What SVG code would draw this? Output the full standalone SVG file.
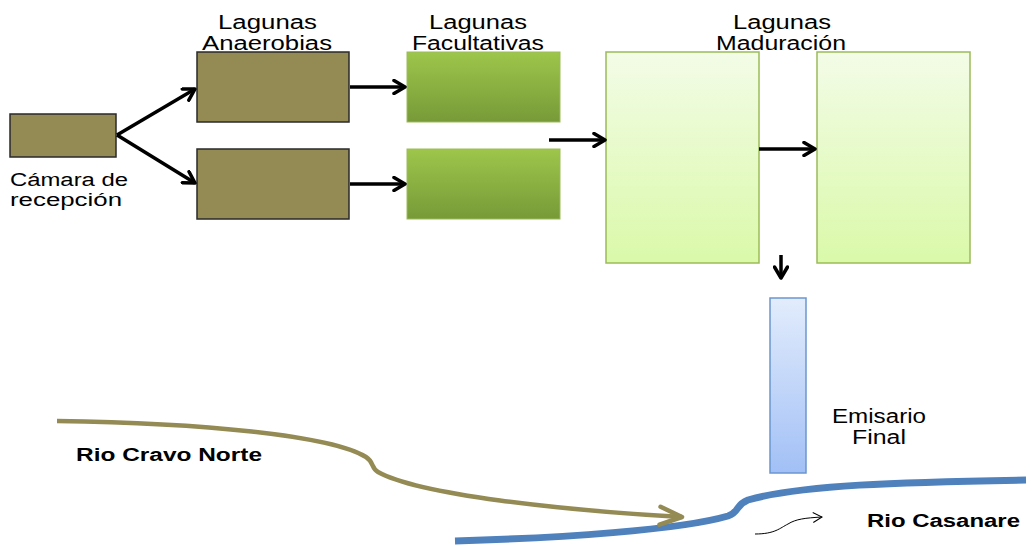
<svg xmlns="http://www.w3.org/2000/svg" width="1032" height="546" viewBox="0 0 1032 546">
<defs>
<linearGradient id="gFac" x1="0" y1="0" x2="0" y2="1"><stop offset="0" stop-color="#9DC64B"/><stop offset="1" stop-color="#779A38"/></linearGradient>
<linearGradient id="gMad" x1="0" y1="0" x2="0" y2="1"><stop offset="0" stop-color="#F3FCE7"/><stop offset="1" stop-color="#DAF9A9"/></linearGradient>
<linearGradient id="gEmi" x1="0" y1="0" x2="0" y2="1"><stop offset="0" stop-color="#E2ECFC"/><stop offset="1" stop-color="#A2C0F6"/></linearGradient>
<marker id="ah" viewBox="0 0 16 16" refX="13" refY="8" markerWidth="16" markerHeight="16" markerUnits="userSpaceOnUse" orient="auto"><polyline points="2,1.5 13,8 2,14.5" fill="none" stroke="#000" stroke-width="3.5" stroke-linecap="round" stroke-linejoin="round"/></marker>
<marker id="ahB" viewBox="0 0 28 24" refX="25" refY="12" markerWidth="28" markerHeight="24" markerUnits="userSpaceOnUse" orient="auto"><polyline points="3,3 25,12 3,21" fill="none" stroke="#948A54" stroke-width="4.5" stroke-linecap="round" stroke-linejoin="round"/></marker>
<marker id="ahT" viewBox="0 0 12 12" refX="10" refY="6" markerWidth="12" markerHeight="12" markerUnits="userSpaceOnUse" orient="auto"><polyline points="1,1 10,6 1,11" fill="none" stroke="#000" stroke-width="1"/></marker>
</defs>
<style>
.lbl{font-family:"Liberation Sans",Arial,sans-serif;font-size:20px;fill:#000}
.sm{font-size:18px}
.bold{font-family:"Liberation Sans",Arial,sans-serif;font-size:18px;font-weight:bold;fill:#000}
.brown{fill:#948A54;stroke:#2a2a2a;stroke-width:1.5}
.fac{fill:url(#gFac);stroke:#9BBB59;stroke-width:1}
.mad{fill:url(#gMad);stroke:#9BBB59;stroke-width:1.5}
.arr{fill:none;stroke:#000;stroke-width:3.5;marker-end:url(#ah)}
</style>
<rect width="1032" height="546" fill="#fff"/>
<g id="camara">
<rect class="brown" x="10" y="114" width="106" height="43"/>
<text class="lbl sm" x="10" y="186" textLength="118" lengthAdjust="spacingAndGlyphs">Cámara de</text>
<text class="lbl sm" x="10" y="206" textLength="112" lengthAdjust="spacingAndGlyphs">recepción</text>
</g>
<g id="anaerobias">
<text class="lbl" x="218" y="29" textLength="99" lengthAdjust="spacingAndGlyphs">Lagunas</text>
<text class="lbl" x="202" y="50" textLength="130" lengthAdjust="spacingAndGlyphs">Anaerobias</text>
<rect class="brown" x="197" y="52" width="152" height="70"/>
<rect class="brown" x="197" y="149" width="152" height="70"/>
</g>
<g id="facultativas">
<text class="lbl" x="429" y="29" textLength="98" lengthAdjust="spacingAndGlyphs">Lagunas</text>
<text class="lbl" x="412" y="50" textLength="132" lengthAdjust="spacingAndGlyphs">Facultativas</text>
<rect class="fac" x="407" y="52" width="153" height="70"/>
<rect class="fac" x="407" y="149" width="153" height="70"/>
</g>
<g id="maduracion">
<text class="lbl" x="733" y="29" textLength="98" lengthAdjust="spacingAndGlyphs">Lagunas</text>
<text class="lbl" x="716" y="50" textLength="130" lengthAdjust="spacingAndGlyphs">Maduración</text>
<rect class="mad" x="606" y="52" width="153" height="211"/>
<rect class="mad" x="817" y="52" width="153" height="211"/>
</g>
<g id="emisario">
<rect x="770" y="298" width="36" height="175" fill="url(#gEmi)" stroke="#6A96D0" stroke-width="1.5"/>
<text class="lbl" x="832" y="423" textLength="94" lengthAdjust="spacingAndGlyphs">Emisario</text>
<text class="lbl" x="852" y="444" textLength="54" lengthAdjust="spacingAndGlyphs">Final</text>
</g>
<g id="rios">
<path d="M455,541 C560,538 680,530 728,516 C740,512 735,505 748,500 C800,485 900,482 1026,480" fill="none" stroke="#4F81BD" stroke-width="7"/>
<text class="bold" x="867" y="527" textLength="153" lengthAdjust="spacingAndGlyphs">Rio Casanare</text>
<text class="bold" x="76" y="461" textLength="186" lengthAdjust="spacingAndGlyphs">Rio Cravo Norte</text>
</g>
<g id="connectors">
<line class="arr" x1="117" y1="135" x2="195" y2="89"/>
<line class="arr" x1="117" y1="135" x2="195" y2="183"/>
<line class="arr" x1="350" y1="87" x2="405" y2="87"/>
<line class="arr" x1="350" y1="184" x2="405" y2="184"/>
<line class="arr" x1="549" y1="140" x2="605" y2="140"/>
<line class="arr" x1="759" y1="149" x2="815" y2="149"/>
<line class="arr" x1="781" y1="255" x2="781" y2="278"/>
<path d="M57,421 C200,423 330,435 366,457 C374,462 371,468 378,472 C420,495 560,510 682,517" fill="none" stroke="#948A54" stroke-width="4.5" marker-end="url(#ahB)"/>
<path d="M755,534 C775,534 780,528 788,524 C796,519 805,518 822,517" fill="none" stroke="#000" stroke-width="1" marker-end="url(#ahT)"/>
</g>
</svg>
